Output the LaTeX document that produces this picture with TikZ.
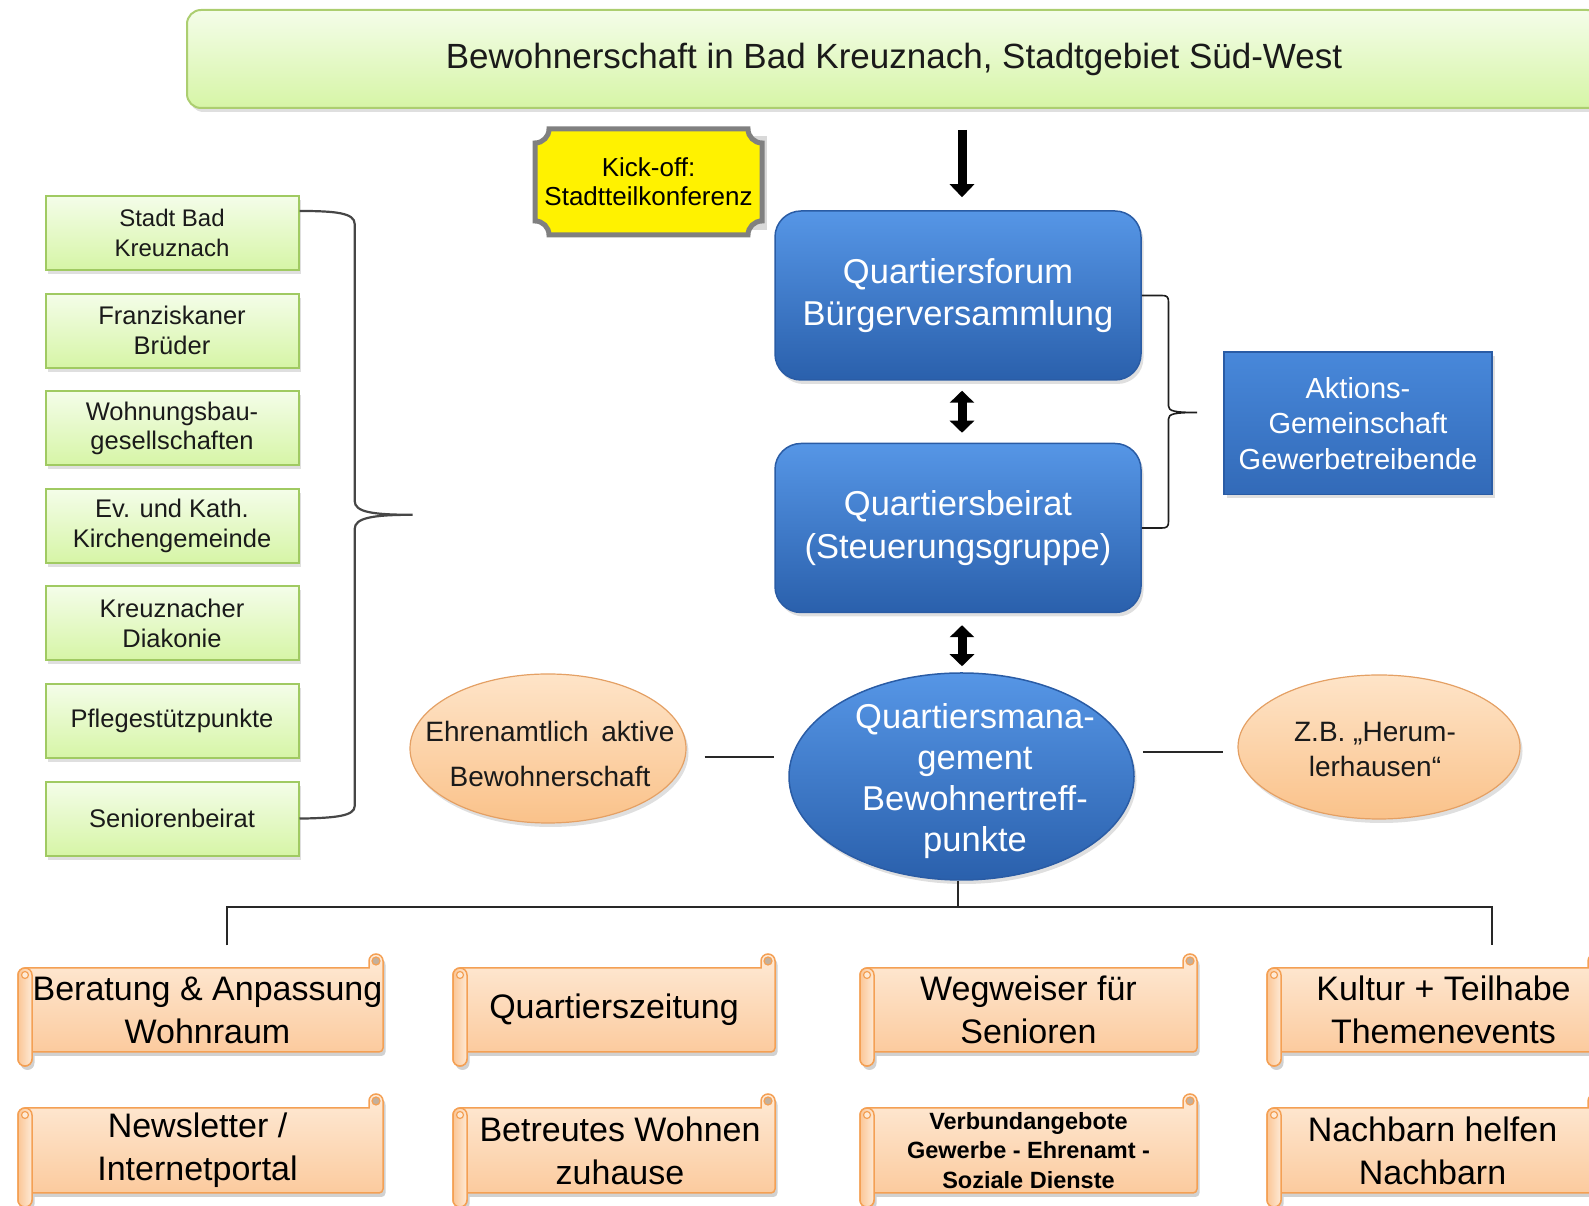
\documentclass[tikz,border=0pt]{standalone}
\usepackage{fontspec}
\setmainfont{Liberation Sans}
\usetikzlibrary{arrows.meta,shapes.geometric,shadows,calc}

\definecolor{grnTop}{RGB}{244,253,233}
\definecolor{grnBot}{RGB}{214,245,166}
\definecolor{grnLine}{RGB}{160,202,98}
\definecolor{banLine}{RGB}{172,206,112}
\definecolor{bluTop}{RGB}{86,150,230}
\definecolor{bluMid}{RGB}{60,124,208}
\definecolor{bluBot}{RGB}{42,96,172}
\definecolor{bluLine}{RGB}{42,92,165}
\definecolor{aktTop}{RGB}{72,136,218}
\definecolor{aktBot}{RGB}{50,106,184}
\definecolor{orTop}{RGB}{254,228,200}
\definecolor{orBot}{RGB}{250,194,138}
\definecolor{orLine}{RGB}{228,160,100}
\definecolor{scTop}{RGB}{254,234,214}
\definecolor{scBot}{RGB}{251,198,150}
\definecolor{scLine}{RGB}{244,160,84}
\definecolor{scCurl}{RGB}{196,176,156}
\definecolor{kickGray}{RGB}{128,128,128}
\definecolor{txt}{RGB}{26,26,26}
\definecolor{braceGray}{RGB}{70,70,70}
\definecolor{connCol}{RGB}{40,40,40}
\definecolor{bracketCol}{RGB}{30,30,30}

\tikzset{
  shadowstd/.style={drop shadow={shadow xshift=2.5pt,shadow yshift=-4pt,opacity=.25}},
  bannerbox/.style={draw=banLine, line width=2pt, rounded corners=14pt,
    top color=grnTop, bottom color=grnBot, minimum width=1414pt, minimum height=98pt, inner sep=0pt,
    text=txt, font=\fontsize{35}{42}\selectfont, shadowstd},
  greenbox/.style={draw=grnLine, line width=2pt, top color=grnTop, bottom color=grnBot,
    minimum width=253pt, minimum height=74pt, inner sep=0pt, align=center, text=txt,
    font=\fontsize{25.5}{29.5}\selectfont, shadowstd},
  bluebox/.style={draw=bluLine, line width=1.5pt, rounded corners=26pt, top color=bluTop,
    middle color=bluMid, bottom color=bluBot, minimum width=366pt, minimum height=169pt,
    inner sep=0pt, align=center, text=white, font=\fontsize{34.5}{42.6}\selectfont, shadowstd},
  aktbox/.style={draw=bluLine, line width=1.5pt, top color=aktTop,
    bottom color=aktBot, minimum width=268pt, minimum height=142.5pt,
    inner sep=0pt, align=center, text=white, font=\fontsize{29}{35.5}\selectfont, shadowstd},
  blueell/.style={ellipse, draw=bluLine, line width=1.5pt, top color=bluTop, middle color=bluMid,
    bottom color=bluBot, inner sep=0pt, shadowstd},
  orell/.style={ellipse, draw=orLine, line width=1.2pt, top color=orTop, bottom color=orBot,
    inner sep=0pt, shadowstd},
  ortext/.style={align=center, text=txt, inner sep=0pt},
  kicktext/.style={align=center, text=black, inner sep=0pt, font=\fontsize{26}{29}\selectfont,
    minimum width=227pt, minimum height=106pt},
  kickframe/.style={draw=kickGray, line width=5pt, fill=yellow},
  bigarrow/.style={line width=9pt, black, -{Triangle[width=24pt,length=13pt]}},
  dblarrow/.style={line width=9pt, black, {Triangle[width=24pt,length=12pt]}-{Triangle[width=24pt,length=12pt]}},
  conn/.style={line width=2pt, draw=connCol},
  braceline/.style={line width=2.2pt, draw=braceGray},
  bracketline/.style={line width=1.6pt, draw=bracketCol},
  scrollbody/.style={draw=scLine, line width=1.5pt, top color=scTop, bottom color=scBot},
  scrollroll/.style={draw=scLine, line width=1.5pt, left color=scBot, right color=scTop, rounded corners=7pt},
  scrollcurl/.style={draw=scLine, line width=1.2pt, fill=scTop},
  scrollcurlR/.style={draw=scLine, line width=1.2pt, fill=scCurl},
  scrolltext/.style={inner sep=0pt, align=center, text=black, font=\fontsize{34}{43}\selectfont},
}

% scroll outline: x0, x1, y-bottom, y-top of the body
\newcommand\scrollpath[4]{({#1+14},{#3}) -- ({#2-4},{#3}) arc[start angle=-90,end angle=0,radius=4]
  -- ({#2},{#4+7}) arc[start angle=0,end angle=180,radius=7] -- ({#2-14},{#4})
  -- ({#1+7},{#4}) arc[start angle=90,end angle=180,radius=7]
  -- ({#1},{#3-7}) arc[start angle=180,end angle=360,radius=7] -- cycle}

% [extra node style]{name}{x0}{x1}{yb}{yt}{text}
\newcommand\myscroll[7][]{%
  \fill[black,opacity=.18,shift={(2.5,-4)}] \scrollpath{#3}{#4}{#5}{#6};
  \path[scrollbody] \scrollpath{#3}{#4}{#5}{#6};
  \path[scrollroll] ({#3},{#5-14}) rectangle ({#3+14},{#6});
  \path[scrollcurl] ({#3+7},{#6-7}) circle[radius=3.5];
  \path[scrollcurlR] ({#4-7},{#6+7}) circle[radius=4];
  \node[scrolltext,minimum width={#4-#3},minimum height={#6-#5},#1] (#2) at ({(#3+#4)/2},{(#5+#6)/2}) {#7};
}

\begin{document}
\begin{tikzpicture}[x=1pt,y=1pt]
\useasboundingbox (0,0) rectangle (1589,1206);
\clip (0,0) rectangle (1589,1206);

% banner
\node[bannerbox] (banner) at (894,1147) {Bewohnerschaft in Bad Kreuznach, Stadtgebiet Süd-West};

% kick-off plaque
\fill[black,opacity=.15] (552,976) -- (767,976) -- (767,1070) -- (552,1070) -- cycle;
\path[kickframe] (549,1077) -- (748,1077) arc[start angle=180,end angle=270,radius=14]
  -- (762,985) arc[start angle=90,end angle=180,radius=14]
  -- (549,971) arc[start angle=0,end angle=90,radius=14]
  -- (535,1063) arc[start angle=270,end angle=360,radius=14] -- cycle;
\node[kicktext] (kick) at (648.5,1024) {Kick-off:\\Stadtteilkonferenz};

% left column of partners
\node[greenbox, font=\fontsize{24}{29.5}\selectfont] (b1) at (172,973) {Stadt Bad\\Kreuznach};
\node[greenbox] (b2) at (172,875.4) {Franziskaner\\Brüder};
\node[greenbox] (b3) at (172,777.8) {Wohnungsbau-\\gesellschaften};
\node[greenbox] (b4) at (172,680.2) {Ev. und Kath.\\Kirchengemeinde};
\node[greenbox] (b5) at (172,582.6) {Kreuznacher\\Diakonie};
\node[greenbox] (b6) at (172,485) {Pflegestützpunkte};
\node[greenbox] (b7) at (172,387.4) {Seniorenbeirat};

% left brace
\draw[braceline] ($(b1.east)+(0,22)$) .. controls (336,995) and (354.7,993) .. (354.7,982)
  -- (354.7,705) .. controls (354.7,694) and (372,691.2) .. (412.5,691.2)
  .. controls (372,691.2) and (354.7,688) .. (354.7,677)
  -- (354.7,400) .. controls (354.7,390) and (336,388) .. (b7.east);

% central blue boxes
\node[bluebox] (forum) at (958,910.5) {Quartiersforum\\Bürgerversammlung};
\node[bluebox] (beirat) at (958,678) {Quartiersbeirat\\(Steuerungsgruppe)};
\node[aktbox] (akt) at (1358,782.75) {Aktions-\\Gemeinschaft\\Gewerbetreibende};

% arrows
\draw[bigarrow, shorten <=21pt, shorten >=13pt] ([xshift=4pt]forum.north |- banner.south) -- ([xshift=4pt]forum.north);
\draw[dblarrow, shorten <=10pt, shorten >=10pt] ([xshift=4pt]forum.south) -- ([xshift=4pt]beirat.north);

% right bracket
\draw[bracketline] (forum.east) -- (1162,910.5) .. controls (1167,910.5) and (1168.5,909) .. (1168.5,904)
  -- (1168.5,800) .. controls (1168.5,795) and (1174,793.5) .. (1197,793.5)
  .. controls (1174,793.5) and (1168.5,792) .. (1168.5,787)
  -- (1168.5,684.5) .. controls (1168.5,679.5) and (1167,678) .. (1162,678) -- (beirat.east);

% ellipses
\node[blueell, minimum width=345pt, minimum height=207pt] (qm) at (961.5,429.5) {};
\node[ortext, text=white, font=\fontsize{34.5}{41.2}\selectfont] (qmt) at (975,425)
  {Quartiersmana-\\gement\\Bewohnertreff-\\punkte};
\node[orell, minimum width=276pt, minimum height=149pt] (e1) at (548,457.5) {};
\node[ortext, font=\fontsize{28}{44.6}\selectfont] (e1t) at (550,452)
  {Ehrenamtlich\hspace{0.45em}aktive\\Bewohnerschaft};
\node[orell, minimum width=282pt, minimum height=144pt] (e2) at (1379,459) {};
\node[ortext, font=\fontsize{28}{35.5}\selectfont] (e2t) at (1375,456.6)
  {Z.B. „Herum-\\lerhausen“};

\draw[dblarrow, shorten <=12pt, shorten >=6pt] ([xshift=4pt]beirat.south) -- ([xshift=4pt]beirat.south |- qm.north);
\draw[conn] ($(e1.east)+(18,-8.5)$) -- ($(qm.west)+(-14,19.5)$);
\draw[conn] ($(qm.east)+(8,24.5)$) -- ($(e2.west)+(-14,-5)$);

% distribution line
\coordinate (hub) at (958,299);
\coordinate (dropL) at (227,260.5);
\coordinate (dropR) at (1492,260.5);
\draw[conn] (qm.south -| hub) -- (hub);
\draw[conn] (dropL) |- (hub) -| (dropR);

% scrolls row 1
\myscroll[xshift=7pt]{s1}{18}{383}{154}{238}{Beratung \& Anpassung\\Wohnraum}
\myscroll{s2}{453}{775}{154}{238}{Quartierszeitung}
\myscroll{s3}{860}{1197}{154}{238}{Wegweiser für\\Senioren}
\myscroll[xshift=9pt]{s4}{1267}{1602}{154}{238}{Kultur + Teilhabe\\Themenevents}
% scrolls row 2
\myscroll[xshift=-3pt]{s5}{18}{383}{13}{98}{Newsletter /\\Internetportal}
\myscroll[xshift=6pt]{s6}{453}{775}{13}{98}{Betreutes Wohnen\\zuhause}
\myscroll[font=\bfseries\fontsize{23.5}{29.5}\selectfont]{s7}{860}{1197}{13}{98}{Verbundangebote\\Gewerbe - Ehrenamt -\\Soziale Dienste}
\myscroll[xshift=-2pt]{s8}{1267}{1602}{13}{98}{Nachbarn helfen\\Nachbarn}
\end{tikzpicture}
\end{document}
